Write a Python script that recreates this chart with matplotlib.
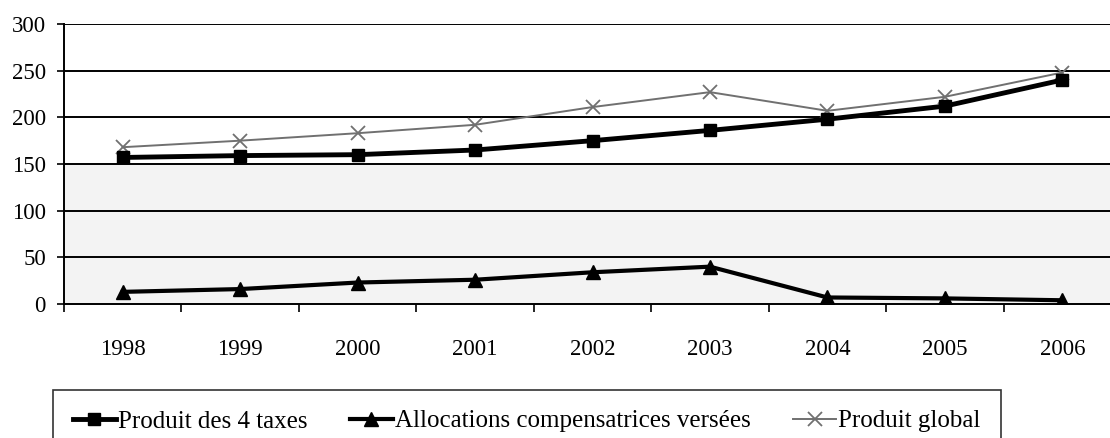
import matplotlib
matplotlib.use("Agg")
import matplotlib.pyplot as plt
import numpy as np

years = ["1998", "1999", "2000", "2001", "2002", "2003", "2004", "2005", "2006"]
produit_4_taxes = [157, 159, 160, 165, 175, 186, 198, 212, 240]
allocations = [13, 16, 23, 26, 34, 40, 7, 6, 4]
produit_global = [168, 175, 183, 192, 211, 227, 207, 222, 248]
y_ticks = [0, 50, 100, 150, 200, 250, 300]
labels = ["Produit des 4 taxes", "Allocations compensatrices versées", "Produit global"]

plt.rcParams['font.family'] = ['Liberation Serif', 'DejaVu Serif']

W, H = 1110, 438
fig = plt.figure(figsize=(W / 100, H / 100), dpi=100)
left, right, top, bottom = 64, 1121, 24, 304
ax = fig.add_axes([left / W, 1 - bottom / H, (right - left) / W, (bottom - top) / H])

x = np.arange(len(years))
ax.set_xlim(-0.5, len(years) - 0.5)
ax.set_ylim(0, 300)

ax.axhspan(0, 150, color='#f3f3f3', zorder=0)
for v in y_ticks[1:]:
    ax.axhline(v, color='black', lw=1.4, zorder=1)

l1, = ax.plot(x, produit_4_taxes, color='black', lw=3.5, marker='s', ms=9, zorder=4)
l2, = ax.plot(x, allocations, color='black', lw=3, marker='^', ms=10, zorder=4)
l3, = ax.plot(x, produit_global, color='#707070', lw=1.4, marker='x', ms=10, mew=1.3, zorder=3)

ax.set_yticks(y_ticks)
ax.set_yticklabels([str(v) for v in y_ticks], fontsize=16.5)
ax.tick_params(axis='y', direction='out', length=5, width=1.2, pad=8)

ax.set_xticks(x)
ax.set_xticklabels(years, fontsize=16.5)
ax.tick_params(axis='x', which='major', length=0, pad=25)
ax.set_xticks(np.arange(-0.5, len(years), 1.0), minor=True)
ax.tick_params(axis='x', which='minor', direction='out', length=6, width=1.2)

for s in ['top', 'right']:
    ax.spines[s].set_visible(False)
ax.spines['left'].set_linewidth(1.4)
ax.spines['bottom'].set_linewidth(1.4)

leg = fig.legend([l1, l2, l3], labels, ncol=3, loc='upper left',
                 bbox_to_anchor=(53 / W, 1 - 390 / H), borderaxespad=0,
                 frameon=True, fancybox=False, edgecolor='black', fontsize=18,
                 handlelength=1.7, handletextpad=0.1, columnspacing=1.7,
                 borderpad=0.8)
leg.get_frame().set_linewidth(1.2)

fig.savefig("out.png", dpi=100)
